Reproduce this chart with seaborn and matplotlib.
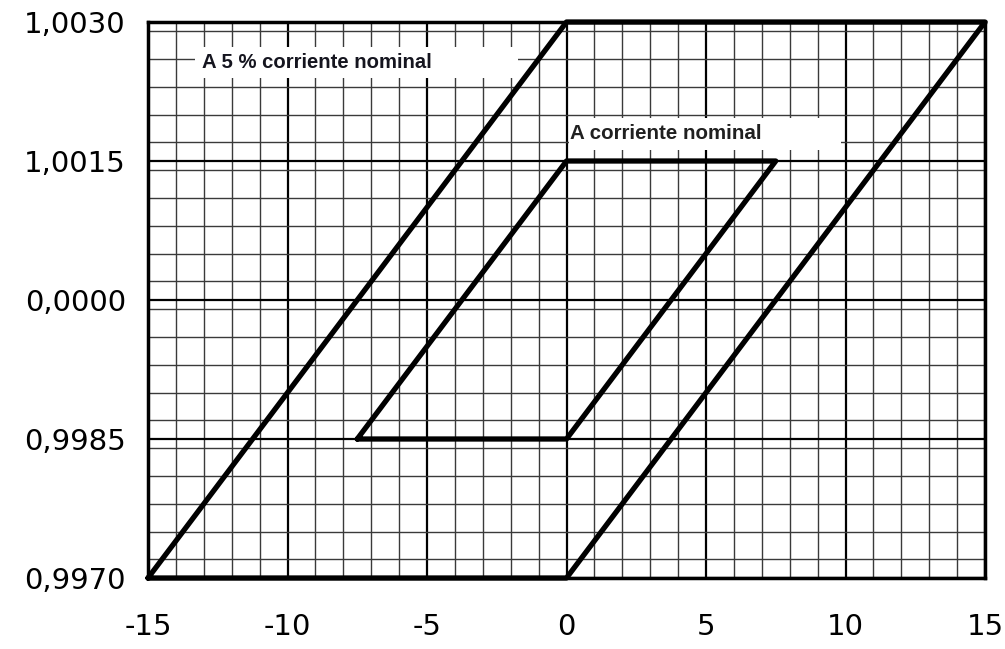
import matplotlib
matplotlib.use("Agg")
import matplotlib.pyplot as plt
import seaborn as sns
import numpy as np
import pandas as pd
from matplotlib.patches import Rectangle
from matplotlib.ticker import MultipleLocator

# data
outer_x = [-15, 0, 15, 0, -15]
outer_y = [0.9970, 0.9970, 1.0030, 1.0030, 0.9970]
inner_x = [-7.5, 0, 7.5, 0, -7.5]
inner_y = [0.9985, 0.9985, 1.0015, 1.0015, 0.9985]
x_ticks = [-15, -10, -5, 0, 5, 10, 15]
x_tick_labels = ["-15", "-10", "-5", "0", "5", "10", "15"]
y_ticks = [0.9970, 0.9985, 1.0000, 1.0015, 1.0030]
y_tick_labels = ["0,9970", "0,9985", "0,0000", "1,0015", "1,0030"]
label_outer = "A 5 % corriente nominal"
label_inner = "A corriente nominal"

sns.set_theme(style="white")
plt.rcParams['font.family'] = ['DejaVu Sans']

fig = plt.figure(figsize=(10.05, 6.49), dpi=100)
ax = fig.add_axes([148/1005, 1-578/649, (985-148)/1005, (578-22)/649])

df_outer = pd.DataFrame({"x": outer_x, "y": outer_y})
df_inner = pd.DataFrame({"x": inner_x, "y": inner_y})
for df in (df_outer, df_inner):
    sns.lineplot(data=df, x="x", y="y", sort=False, estimator=None, ax=ax,
                 color="black", linewidth=3.8, zorder=5, clip_on=False,
                 solid_capstyle="round", solid_joinstyle="round")

ax.set_xlim(-15, 15)
ax.set_ylim(0.9970, 1.0030)
ax.xaxis.set_major_locator(MultipleLocator(5))
ax.xaxis.set_minor_locator(MultipleLocator(1))
ax.yaxis.set_major_locator(MultipleLocator(0.0015))
ax.yaxis.set_minor_locator(MultipleLocator(0.0003))
ax.set_xticks(x_ticks)
ax.set_xticklabels(x_tick_labels)
ax.set_yticks(y_ticks)
ax.set_yticklabels(y_tick_labels)
ax.grid(which="major", color="black", linewidth=1.6, zorder=1)
ax.grid(which="minor", color="#3a3a3a", linewidth=1.0, zorder=1)
ax.set_axisbelow(True)
ax.tick_params(axis="both", which="both", length=0, labelsize=21, colors="black")
ax.tick_params(axis="x", pad=25)
ax.tick_params(axis="y", pad=16)
ax.set_xlabel("")
ax.set_ylabel("")
for s in ax.spines.values():
    s.set_color("black")
    s.set_linewidth(2.5)
    s.set_visible(True)

# white label boxes
ax.add_patch(Rectangle((-13.3, 1.002396), 11.56, 0.000334, facecolor="white",
                       edgecolor="none", zorder=3))
ax.add_patch(Rectangle((0.1, 1.001619), 9.75, 0.000345, facecolor="white",
                       edgecolor="none", zorder=3))
ax.text(-13.07, 1.002558, label_outer, fontsize=14.6, fontweight="bold",
        family="Liberation Sans", color="#15151f", va="center", ha="left", zorder=4)
ax.text(0.13, 1.001802, label_inner, fontsize=14.8, fontweight="bold",
        family="Liberation Sans", color="#202020", va="center", ha="left", zorder=4)

fig.savefig("out.png", dpi=100, facecolor="white")
